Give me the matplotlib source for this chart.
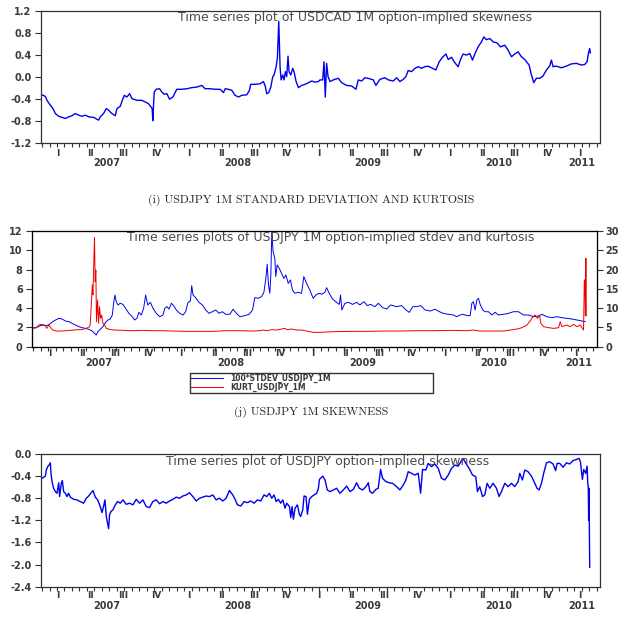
import numpy as np
import matplotlib.pyplot as plt
from matplotlib.lines import Line2D

# ---- data (time in decimal years) ----
cad_t = [2007.000, 2007.026, 2007.038, 2007.064, 2007.084, 2007.102, 2007.128, 2007.153, 2007.179, 2007.204,
         2007.230, 2007.255, 2007.281, 2007.306, 2007.332, 2007.358, 2007.396, 2007.434, 2007.447, 2007.472,
         2007.493, 2007.511, 2007.536, 2007.562, 2007.575, 2007.600, 2007.616, 2007.631, 2007.651, 2007.672,
         2007.690, 2007.728, 2007.766, 2007.792, 2007.817, 2007.835, 2007.845, 2007.850, 2007.856, 2007.861,
         2007.876, 2007.902, 2007.919, 2007.937, 2007.958, 2007.978, 2008.004, 2008.034, 2008.073, 2008.111,
         2008.149, 2008.188, 2008.226, 2008.251, 2008.290, 2008.328, 2008.366, 2008.392, 2008.405, 2008.430,
         2008.456, 2008.481, 2008.507, 2008.532, 2008.571, 2008.591, 2008.601, 2008.634, 2008.673, 2008.698,
         2008.711, 2008.724, 2008.739, 2008.755, 2008.770, 2008.780, 2008.796, 2008.806, 2008.816, 2008.821,
         2008.826, 2008.834, 2008.847, 2008.857, 2008.867, 2008.877, 2008.887, 2008.895, 2008.908, 2008.923,
         2008.933, 2008.949, 2008.967, 2008.992, 2009.018, 2009.043, 2009.069, 2009.094, 2009.120,
         2009.132, 2009.153, 2009.163, 2009.173, 2009.183, 2009.194, 2009.209, 2009.234, 2009.273, 2009.298,
         2009.337, 2009.375, 2009.408, 2009.426, 2009.452, 2009.477, 2009.515, 2009.541, 2009.561, 2009.592,
         2009.630, 2009.656, 2009.694, 2009.720, 2009.745, 2009.771, 2009.791, 2009.809, 2009.835, 2009.860,
         2009.886, 2009.911, 2009.937, 2009.962, 2009.988, 2010.021, 2010.047, 2010.072, 2010.098, 2010.116,
         2010.141, 2010.167, 2010.192, 2010.210, 2010.230, 2010.256, 2010.281, 2010.302, 2010.320, 2010.345,
         2010.371, 2010.389, 2010.409, 2010.435, 2010.460, 2010.491, 2010.516, 2010.550, 2010.575, 2010.601,
         2010.626, 2010.652, 2010.677, 2010.703, 2010.736, 2010.754, 2010.772, 2010.792, 2010.818, 2010.843,
         2010.869, 2010.894, 2010.907, 2010.920, 2010.945, 2010.983, 2011.022, 2011.060, 2011.099, 2011.137,
         2011.163, 2011.181, 2011.191, 2011.201, 2011.206]
cad_skew = [-0.32, -0.35, -0.42, -0.51, -0.57, -0.66, -0.71, -0.73, -0.75, -0.72,
            -0.70, -0.66, -0.69, -0.71, -0.69, -0.72, -0.73, -0.78, -0.72, -0.66,
            -0.57, -0.60, -0.66, -0.70, -0.57, -0.53, -0.42, -0.33, -0.36, -0.30,
            -0.39, -0.42, -0.42, -0.45, -0.48, -0.54, -0.57, -0.79, -0.48, -0.27,
            -0.22, -0.21, -0.27, -0.31, -0.30, -0.40, -0.36, -0.22, -0.22, -0.21,
            -0.19, -0.18, -0.15, -0.21, -0.21, -0.22, -0.22, -0.28, -0.21, -0.22,
            -0.24, -0.33, -0.36, -0.33, -0.32, -0.24, -0.13, -0.13, -0.12, -0.08,
            -0.15, -0.30, -0.28, -0.18, 0.01, 0.04, 0.19, 0.36, 1.01, 0.61,
            0.19, -0.05, 0.04, -0.05, 0.10, 0.01, 0.38, 0.10, 0.04, 0.16,
            0.10, -0.08, -0.19, -0.15, -0.13, -0.10, -0.07, -0.09, -0.08,
            -0.05, -0.05, 0.28, -0.36, 0.25, 0.01, -0.08, -0.05, -0.02, -0.10,
            -0.15, -0.16, -0.22, -0.05, -0.07, -0.01, -0.03, -0.05, -0.15, -0.04,
            -0.01, -0.05, -0.07, -0.01, -0.08, -0.04, 0.01, 0.12, 0.10, 0.16,
            0.19, 0.16, 0.19, 0.20, 0.17, 0.13, 0.28, 0.36, 0.42, 0.32,
            0.36, 0.26, 0.19, 0.32, 0.42, 0.40, 0.43, 0.31, 0.42, 0.55,
            0.64, 0.73, 0.68, 0.70, 0.64, 0.62, 0.55, 0.58, 0.49, 0.37,
            0.42, 0.46, 0.37, 0.32, 0.22, 0.04, -0.10, -0.02, -0.02, 0.02,
            0.13, 0.20, 0.31, 0.19, 0.20, 0.17, 0.20, 0.24, 0.25, 0.22,
            0.23, 0.28, 0.43, 0.52, 0.44]

sd_t = [2007.000, 2007.024, 2007.049, 2007.074, 2007.100, 2007.125, 2007.150, 2007.171, 2007.196, 2007.221,
        2007.247, 2007.272, 2007.297, 2007.323, 2007.348, 2007.373, 2007.399, 2007.424, 2007.449, 2007.467,
        2007.480, 2007.493, 2007.505, 2007.518, 2007.531, 2007.551, 2007.569, 2007.586, 2007.602, 2007.612,
        2007.622, 2007.632, 2007.645, 2007.662, 2007.683, 2007.703, 2007.728, 2007.754, 2007.771, 2007.789,
        2007.804, 2007.822, 2007.840, 2007.855, 2007.871, 2007.891, 2007.911, 2007.936, 2007.962, 2007.987,
        2008.000, 2008.017, 2008.033, 2008.051, 2008.068, 2008.088, 2008.114, 2008.139, 2008.159, 2008.177,
        2008.195, 2008.205, 2008.215, 2008.235, 2008.260, 2008.286, 2008.311, 2008.337, 2008.362, 2008.387,
        2008.413, 2008.438, 2008.463, 2008.494, 2008.519, 2008.545, 2008.570, 2008.608, 2008.641, 2008.667,
        2008.684, 2008.710, 2008.735, 2008.753, 2008.768, 2008.778, 2008.788, 2008.798, 2008.806, 2008.813,
        2008.823, 2008.836, 2008.843, 2008.854, 2008.869, 2008.887, 2008.905, 2008.920, 2008.938, 2008.955,
        2008.970, 2008.988, 2009.013, 2009.039, 2009.056, 2009.077, 2009.102, 2009.127, 2009.153, 2009.178,
        2009.191, 2009.216, 2009.229, 2009.249, 2009.274, 2009.305, 2009.325, 2009.335, 2009.345, 2009.368,
        2009.394, 2009.427, 2009.457, 2009.482, 2009.513, 2009.538, 2009.563, 2009.596, 2009.622, 2009.655,
        2009.685, 2009.716, 2009.761, 2009.799, 2009.832, 2009.857, 2009.883, 2009.913, 2009.944, 2009.977,
        2010.015, 2010.053, 2010.086, 2010.116, 2010.154, 2010.192, 2010.217, 2010.243, 2010.268, 2010.294,
        2010.319, 2010.332, 2010.344, 2010.357, 2010.370, 2010.382, 2010.395, 2010.415, 2010.433, 2010.458,
        2010.484, 2010.509, 2010.534, 2010.572, 2010.610, 2010.648, 2010.686, 2010.724, 2010.762, 2010.801,
        2010.839, 2010.864, 2010.902, 2010.940, 2010.978, 2011.016, 2011.054, 2011.092, 2011.130, 2011.168,
        2011.193]
sd_jpy = [1.97, 1.97, 2.15, 2.25, 2.18, 2.32, 2.60, 2.77, 2.94, 2.87,
          2.66, 2.60, 2.42, 2.25, 2.08, 1.97, 1.90, 1.80, 1.63, 1.38,
          1.21, 1.56, 1.73, 1.90, 2.08, 2.53, 2.77, 2.87, 3.29, 4.50,
          5.36, 4.67, 4.33, 4.50, 4.39, 3.98, 3.46, 3.11, 2.77, 2.94,
          3.56, 3.29, 3.98, 5.36, 4.33, 4.60, 3.98, 3.46, 3.11, 3.29,
          3.98, 4.15, 3.91, 4.50, 4.26, 3.81, 3.46, 3.29, 3.63, 4.60,
          4.74, 6.33, 5.36, 5.09, 4.60, 4.33, 3.81, 3.46, 3.63, 3.81,
          3.46, 3.63, 3.36, 3.36, 3.88, 3.46, 3.11, 3.22, 3.36, 3.81,
          5.09, 5.02, 5.19, 5.64, 7.09, 8.55, 6.40, 5.54, 7.51, 11.87,
          9.86, 9.17, 7.27, 8.48, 8.13, 7.61, 7.09, 7.44, 6.57, 6.92,
          5.88, 5.54, 5.64, 5.54, 7.27, 6.57, 5.88, 5.02, 5.43, 5.54,
          5.43, 5.64, 6.12, 5.54, 4.95, 4.60, 4.39, 5.36, 3.81, 4.50,
          4.60, 4.39, 4.60, 4.33, 4.67, 4.26, 4.39, 4.15, 4.50, 4.05,
          3.91, 4.33, 4.15, 4.26, 3.81, 3.56, 4.15, 4.15, 4.26, 3.81,
          3.70, 3.88, 3.63, 3.46, 3.36, 3.29, 3.11, 3.29, 3.36, 3.22,
          3.22, 4.50, 4.67, 3.81, 4.84, 5.02, 4.39, 3.81, 3.63, 3.63,
          3.29, 3.56, 3.29, 3.36, 3.46, 3.63, 3.63, 3.29, 3.29, 3.11,
          3.18, 3.36, 3.11, 3.01, 3.11, 3.01, 2.94, 2.87, 2.77, 2.66,
          2.60]

kurt_t = [2007.000, 2007.024, 2007.044, 2007.062, 2007.087, 2007.105, 2007.120, 2007.138, 2007.150, 2007.176,
          2007.214, 2007.252, 2007.290, 2007.328, 2007.366, 2007.404, 2007.429, 2007.434, 2007.442, 2007.450,
          2007.455, 2007.462, 2007.467, 2007.472, 2007.477, 2007.482, 2007.490, 2007.498, 2007.505, 2007.513,
          2007.521, 2007.531, 2007.543, 2007.556, 2007.581, 2007.619, 2007.683, 2007.759, 2007.835, 2007.911,
          2007.987, 2008.063, 2008.164, 2008.266, 2008.367, 2008.468, 2008.570, 2008.671, 2008.722, 2008.748,
          2008.773, 2008.811, 2008.849, 2008.887, 2008.913, 2008.930, 2008.963, 2009.001, 2009.039, 2009.077,
          2009.127, 2009.178, 2009.280, 2009.406, 2009.533, 2009.660, 2009.787, 2009.913, 2010.040, 2010.167,
          2010.294, 2010.344, 2010.395, 2010.496, 2010.572, 2010.623, 2010.674, 2010.712, 2010.750, 2010.775,
          2010.795, 2010.813, 2010.831, 2010.846, 2010.856, 2010.877, 2010.915, 2010.953, 2010.991, 2011.003,
          2011.016, 2011.054, 2011.079, 2011.105, 2011.130, 2011.155, 2011.180, 2011.186, 2011.190, 2011.194,
          2011.198, 2011.201]
kurt_jpy = [4.75, 4.93, 5.62, 5.79, 5.62, 4.75, 5.62, 4.75, 4.32, 4.06,
            4.06, 4.15, 4.24, 4.41, 4.41, 4.75, 5.19, 5.62, 10.37, 15.99,
            13.40, 22.90, 28.26, 16.85, 19.88, 6.48, 12.10, 6.05, 10.37, 7.35,
            8.21, 6.05, 5.62, 4.75, 4.49, 4.32, 4.24, 4.15, 4.24, 4.15,
            4.15, 4.06, 3.98, 3.98, 3.98, 4.15, 4.15, 4.06, 4.15, 4.32,
            4.15, 4.41, 4.32, 4.58, 4.75, 4.41, 4.58, 4.32, 4.32, 4.06,
            3.72, 3.72, 3.89, 3.98, 3.98, 4.06, 4.06, 4.15, 4.15, 4.24,
            4.15, 4.32, 4.06, 4.06, 4.06, 4.32, 4.58, 4.93, 5.62, 6.66,
            7.78, 8.21, 7.35, 8.21, 6.05, 5.19, 4.93, 4.75, 4.93, 6.48,
            5.19, 5.62, 5.19, 5.79, 5.19, 5.62, 4.32, 17.29, 17.29, 8.00,
            22.90, 8.00]

skew_t = [2007.000, 2007.013, 2007.026, 2007.033, 2007.043, 2007.054, 2007.064, 2007.069, 2007.077, 2007.089,
          2007.102, 2007.115, 2007.128, 2007.135, 2007.148, 2007.156, 2007.166, 2007.179, 2007.192, 2007.204,
          2007.217, 2007.243, 2007.268, 2007.294, 2007.319, 2007.340, 2007.358, 2007.375, 2007.391, 2007.409,
          2007.427, 2007.447, 2007.460, 2007.472, 2007.483, 2007.493, 2007.503, 2007.511, 2007.518, 2007.529,
          2007.544, 2007.562, 2007.580, 2007.600, 2007.621, 2007.646, 2007.672, 2007.697, 2007.723, 2007.748,
          2007.774, 2007.799, 2007.825, 2007.850, 2007.876, 2007.902, 2007.927, 2007.953, 2007.978, 2008.004,
          2008.029, 2008.055, 2008.080, 2008.106, 2008.131, 2008.157, 2008.183, 2008.208, 2008.234, 2008.259,
          2008.285, 2008.310, 2008.336, 2008.361, 2008.387, 2008.412, 2008.438, 2008.463, 2008.481, 2008.499,
          2008.525, 2008.550, 2008.576, 2008.601, 2008.627, 2008.652, 2008.678, 2008.703, 2008.724, 2008.744,
          2008.762, 2008.780, 2008.796, 2008.813, 2008.831, 2008.847, 2008.864, 2008.877, 2008.898, 2008.908,
          2008.918, 2008.928, 2008.941, 2008.959, 2008.974, 2008.984, 2009.000, 2009.010, 2009.025, 2009.036,
          2009.051, 2009.069, 2009.087, 2009.107, 2009.120, 2009.128,
          2009.153, 2009.171, 2009.188, 2009.209, 2009.234, 2009.260, 2009.285, 2009.311, 2009.337, 2009.362,
          2009.388, 2009.413, 2009.434, 2009.459, 2009.485, 2009.503, 2009.515, 2009.536, 2009.561, 2009.579,
          2009.597, 2009.612, 2009.638, 2009.663, 2009.689, 2009.720, 2009.745, 2009.771, 2009.791, 2009.809,
          2009.835, 2009.860, 2009.886, 2009.904, 2009.919, 2009.944, 2009.962, 2009.988, 2010.013, 2010.039,
          2010.064, 2010.090, 2010.116, 2010.141, 2010.167, 2010.192, 2010.218, 2010.230, 2010.251, 2010.276,
          2010.302, 2010.327, 2010.340, 2010.358, 2010.379, 2010.396, 2010.414, 2010.435, 2010.460, 2010.486,
          2010.506, 2010.524, 2010.550, 2010.575, 2010.601, 2010.626, 2010.652, 2010.665, 2010.685, 2010.703,
          2010.728, 2010.754, 2010.780, 2010.797, 2010.813, 2010.831, 2010.848, 2010.869, 2010.894, 2010.920,
          2010.940, 2010.951, 2010.971, 2010.997, 2011.022, 2011.048, 2011.073, 2011.099, 2011.119, 2011.130,
          2011.145, 2011.155, 2011.170, 2011.181, 2011.186, 2011.190, 2011.193, 2011.196, 2011.199, 2011.201]
skew_jpy = [-0.44, -0.42, -0.40, -0.29, -0.23, -0.20, -0.16, -0.35, -0.50, -0.62,
            -0.68, -0.71, -0.52, -0.77, -0.53, -0.48, -0.68, -0.71, -0.77, -0.71,
            -0.78, -0.82, -0.83, -0.86, -0.89, -0.80, -0.76, -0.71, -0.66, -0.78,
            -0.83, -0.95, -1.06, -0.95, -0.83, -1.13, -1.25, -1.35, -1.10, -1.04,
            -1.01, -0.92, -0.86, -0.89, -0.83, -0.91, -0.89, -0.92, -0.82, -0.89,
            -0.83, -0.95, -0.97, -0.86, -0.83, -0.90, -0.86, -0.89, -0.85, -0.82,
            -0.78, -0.80, -0.76, -0.74, -0.70, -0.77, -0.85, -0.80, -0.78, -0.76,
            -0.77, -0.74, -0.83, -0.80, -0.85, -0.80, -0.66, -0.74, -0.82, -0.92,
            -0.94, -0.86, -0.88, -0.85, -0.89, -0.83, -0.85, -0.74, -0.77, -0.71,
            -0.80, -0.74, -0.86, -0.82, -0.89, -0.83, -0.98, -0.89, -0.95, -1.15,
            -0.95, -1.18, -0.98, -0.92, -1.09, -1.13, -1.01, -0.76, -0.77, -1.09,
            -0.82, -0.77, -0.74, -0.71, -0.62, -0.46,
            -0.40, -0.47, -0.65, -0.68, -0.65, -0.62, -0.71, -0.65, -0.58, -0.68,
            -0.64, -0.52, -0.62, -0.65, -0.59, -0.52, -0.68, -0.71, -0.64, -0.62,
            -0.28, -0.44, -0.50, -0.52, -0.53, -0.59, -0.65, -0.56, -0.47, -0.32,
            -0.35, -0.38, -0.35, -0.71, -0.28, -0.29, -0.17, -0.23, -0.18, -0.26,
            -0.44, -0.47, -0.38, -0.26, -0.20, -0.22, -0.12, -0.08, -0.17, -0.26,
            -0.38, -0.41, -0.68, -0.59, -0.77, -0.74, -0.53, -0.62, -0.53, -0.62,
            -0.77, -0.68, -0.53, -0.59, -0.53, -0.59, -0.50, -0.35, -0.47, -0.29,
            -0.32, -0.40, -0.53, -0.62, -0.65, -0.53, -0.35, -0.16, -0.14, -0.18,
            -0.30, -0.17, -0.17, -0.24, -0.16, -0.18, -0.12, -0.10, -0.08, -0.14,
            -0.46, -0.28, -0.35, -0.22, -0.53, -0.59, -1.20, -0.62, -1.53, -2.05]

years = [2007, 2008, 2009, 2010]
quarters = ['I', 'II', 'III', 'IV']
legend_labels = ['100*STDEV_USDJPY_1M', 'KURT_USDJPY_1M']

W, H = 622, 642
GREY = '#3a3a3a'
plt.rcParams['font.family'] = ['DejaVu Sans']
plt.rcParams['font.weight'] = 'bold'
plt.rcParams['axes.unicode_minus'] = False

fig = plt.figure(figsize=(W / 100, H / 100), dpi=100)


def box(l, t, r, b):
    # axes rectangle in pixels of the figure
    return fig.add_axes([l / W, 1 - b / H, (r - l) / W, (b - t) / H])


def dress(ax, qpad, ypad):
    ax.set_xlim(2006.99, 2011.28)
    qpos = [y + 0.125 + 0.25 * i for y in years for i in range(4)] + [2011.125]
    ax.set_xticks(qpos)
    ax.set_xticklabels(quarters * len(years) + ['I'])
    ax.set_xticks(np.arange(2007, 2011.27, 0.0575), minor=True)
    ax.tick_params(axis='x', which='major', length=0, pad=qpad, labelsize=6.5, labelcolor=GREY)
    ax.tick_params(axis='x', which='minor', length=3, width=0.8, direction='out', color='#333333')
    ax.tick_params(axis='y', length=4, width=0.8, pad=2.5, labelsize=7, labelcolor=GREY, color='#333333')
    for y in years:
        ax.annotate(str(y), xy=(y + 0.5, 0), xycoords=('data', 'axes fraction'),
                    xytext=(0, -ypad), textcoords='offset points',
                    ha='center', va='center', fontsize=7, color=GREY)
    ax.annotate('2011', xy=(2011.14, 0), xycoords=('data', 'axes fraction'),
                xytext=(0, -ypad), textcoords='offset points',
                ha='center', va='center', fontsize=7, color=GREY)
    for s in ax.spines.values():
        s.set_color('#333333')
        s.set_linewidth(0.9)


def fmt(v):
    return f'{round(v, 1) + 0.0:.1f}'


# ---- (h) USDCAD skewness ----
ax1 = box(40.7, 11, 600, 143.3)
ax1.plot(cad_t, cad_skew, color='#0000ee', lw=1.0)
ax1.set_ylim(-1.2, 1.2)
yt = np.arange(-1.2, 1.21, 0.4)
ax1.set_yticks(yt)
ax1.set_yticklabels([fmt(v) for v in yt])
dress(ax1, 3.8, 14.5)
ax1.text(0.562, 0.948, 'Time series plot of USDCAD 1M option-implied skewness',
         transform=ax1.transAxes, ha='center', va='center', fontsize=9, weight='normal', color='#4a4a4a')

# ---- (i) USDJPY stdev and kurtosis ----
fig.text(0.5, 1 - 200 / H, '(i) USDJPY 1M STANDARD DEVIATION AND KURTOSIS',
         family='cmr10', weight='normal', fontsize=8.5, ha='center', va='center', color='#222222')

ax2 = box(31.7, 231, 596.7, 346.7)
ax2.plot(sd_t, sd_jpy, color='#0000ee', lw=0.7)
ax2.set_ylim(0, 12)
ax2.set_yticks(range(0, 13, 2))
dress(ax2, 1.9, 12.0)
ax2r = ax2.twinx()
ax2r.plot(kurt_t, kurt_jpy, color='#ee0000', lw=0.7)
ax2r.set_ylim(0, 30)
ax2r.set_yticks(range(0, 31, 5))
ax2r.tick_params(axis='y', length=4, width=0.8, pad=2.5, labelsize=7, labelcolor=GREY, color='#333333')
ax2.text(0.530, 0.948, 'Time series plots of USDJPY 1M option-implied stdev and kurtosis',
         transform=ax2.transAxes, ha='center', va='center', fontsize=9, weight='normal', color='#4a4a4a')

handles = [Line2D([], [], color='#0000ee', lw=0.7), Line2D([], [], color='#ee0000', lw=0.7)]
fig.legend(handles, legend_labels, loc='upper left',
           bbox_to_anchor=(190 / W, 1 - 388 / H, 243 / W, 15 / H), mode='expand',
           fontsize=5.5, labelspacing=0.0, borderpad=0.1, handlelength=4.2,
           handletextpad=1.0, borderaxespad=0, frameon=True, fancybox=False,
           edgecolor='#333333', framealpha=1, labelcolor=GREY)

# ---- (j) USDJPY skewness ----
fig.text(0.5, 1 - 412 / H, '(j) USDJPY 1M SKEWNESS',
         family='cmr10', weight='normal', fontsize=8.5, ha='center', va='center', color='#222222')

ax3 = box(40.7, 454, 600, 586.7)
ax3.plot(skew_t, skew_jpy, color='#0000ee', lw=1.0)
ax3.set_ylim(-2.4, 0.0)
yt = np.arange(-2.4, 0.01, 0.4)
ax3.set_yticks(yt)
ax3.set_yticklabels([fmt(v) for v in yt])
dress(ax3, 3.2, 13.8)
ax3.text(0.513, 0.94, 'Time series plot of USDJPY option-implied skewness',
         transform=ax3.transAxes, ha='center', va='center', fontsize=9, weight='normal', color='#4a4a4a')

fig.savefig('out.png', dpi=100, facecolor='white')
